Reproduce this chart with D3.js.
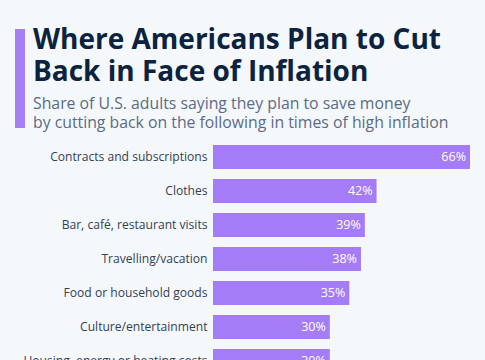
<!DOCTYPE html>
<html>
<head>
<meta charset="utf-8">
<script src="https://cdn.jsdelivr.net/npm/d3@7"></script>
<style>
  body { margin: 0; background: #f5f8fb; }
  svg { display: block; font-family: "Open Sans", sans-serif; }
</style>
</head>
<body>
<div id="chart"></div>
<script>
// data
var categories = ["Contracts and subscriptions", "Clothes", "Bar, café, restaurant visits",
  "Travelling/vacation", "Food or household goods", "Culture/entertainment",
  "Housing, energy or heating costs"];
var values = [66, 42, 39, 38, 35, 30, 30];
var titleLines = ["Where Americans Plan to Cut", "Back in Face of Inflation"];
var subtitleLines = ["Share of U.S. adults saying they plan to save money",
  "by cutting back on the following in times of high inflation"];

var W = 485, H = 360;

var svg = d3.select("#chart")
  .append("svg")
    .attr("width", W)
    .attr("height", H);

svg.append("rect")
  .attr("width", W).attr("height", H)
  .attr("fill", "#f5f8fb");

// accent bar left of title
svg.append("rect")
  .attr("x", 15).attr("y", 29)
  .attr("width", 10).attr("height", 99)
  .attr("fill", "#a67ff5");

svg.selectAll(".title")
  .data(titleLines)
  .enter()
  .append("text")
    .attr("class", "title")
    .attr("x", 33)
    .attr("y", function(d, i) { return 49 + i * 32 })
    .style("font-size", "28px")
    .style("font-weight", "700")
    .style("fill", "#0c2340")
    .text(function(d) { return d });

svg.selectAll(".subtitle")
  .data(subtitleLines)
  .enter()
  .append("text")
    .attr("class", "subtitle")
    .attr("x", 33)
    .attr("y", function(d, i) { return 109 + i * 19 })
    .style("font-size", "15.8px")
    .style("fill", "#5b6b86")
    .text(function(d) { return d });

// scales
var x = d3.scaleLinear()
  .domain([0, 66])
  .range([213, 470]);

var y = d3.scaleBand()
  .domain(categories)
  .range([140, 140 + 34 * categories.length])
  .paddingInner(0.294)
  .paddingOuter(0.147);

var data = categories.map(function(c, i) { return {cat: c, val: values[i]} });

svg.selectAll(".bar")
  .data(data)
  .enter()
  .append("rect")
    .attr("class", "bar")
    .attr("x", x(0))
    .attr("y", function(d) { return y(d.cat) })
    .attr("width", function(d) { return x(d.val) - x(0) })
    .attr("height", y.bandwidth())
    .attr("fill", "#a57cf7");

svg.selectAll(".lbl")
  .data(data)
  .enter()
  .append("text")
    .attr("class", "lbl")
    .attr("x", x(0) - 5.5)
    .attr("y", function(d) { return y(d.cat) + y.bandwidth() / 2 })
    .attr("dy", "0.35em")
    .attr("text-anchor", "end")
    .style("font-size", "12.1px")
    .style("fill", "#333f55")
    .text(function(d) { return d.cat });

svg.selectAll(".val")
  .data(data)
  .enter()
  .append("text")
    .attr("class", "val")
    .attr("x", function(d) { return x(d.val) - 4 })
    .attr("y", function(d) { return y(d.cat) + y.bandwidth() / 2 })
    .attr("dy", "0.35em")
    .attr("text-anchor", "end")
    .style("font-size", "12.5px")
    .style("fill", "#ffffff")
    .text(function(d) { return d.val + "%" });
</script>
</body>
</html>
